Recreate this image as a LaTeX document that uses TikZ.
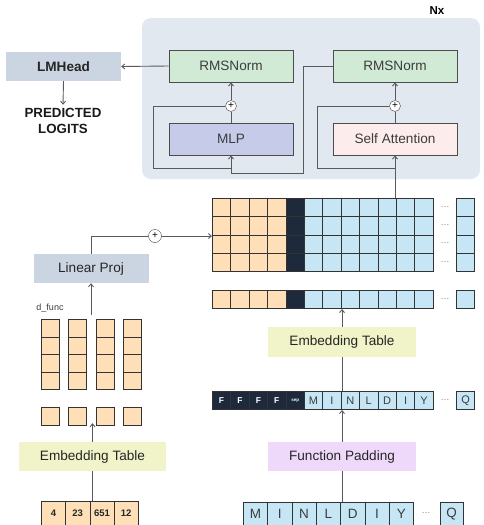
\documentclass[tikz,border=0pt]{standalone}
\usepackage{fontspec}
\setmainfont{Liberation Sans}
\usetikzlibrary{arrows.meta,positioning,calc}
\definecolor{panelbg}{RGB}{226,232,240}
\definecolor{slatebox}{RGB}{203,213,225}
\definecolor{normgreen}{RGB}{208,234,213}
\definecolor{mlpblue}{RGB}{197,203,233}
\definecolor{attnpink}{RGB}{253,236,236}
\definecolor{embyellow}{RGB}{240,244,200}
\definecolor{padviolet}{RGB}{239,217,251}
\definecolor{tokorange}{RGB}{254,223,184}
\definecolor{tokblue}{RGB}{198,230,246}
\definecolor{tokdark}{RGB}{30,41,59}
\definecolor{linegray}{RGB}{90,90,90}
\definecolor{textgray}{RGB}{60,60,60}

\tikzset{
  block/.style={minimum width=124pt, minimum height=32pt, inner sep=0pt, draw=black!70, line width=0.8pt, fill=#1, text=textgray, font=\fontsize{13.6}{15}\selectfont},
  block/.default=white,
  plainbox/.style={minimum height=29pt, inner sep=0pt, fill=#1, text=black!85, font=\fontsize{13.6}{15}\selectfont},
  plainbox/.default=slatebox,
  tok/.style={draw=black!80, line width=0.7pt, fill=#1, minimum width=18.4pt, minimum height=18.25pt, inner sep=0pt, anchor=north west},
  tok/.default=tokblue,
  bigtok/.style={tok=#1, minimum width=24.3pt, minimum height=23pt},
  bigtok/.default=tokblue,
  sumnode/.style={circle, draw=black!75, fill=white, minimum size=11pt, inner sep=0pt, font=\fontsize{10}{10}\selectfont},
  link/.style={draw=linegray, line width=0.9pt},
  arr/.style={link, -{Straight Barb[length=3pt,width=5pt]}},
  moredots/.style={text=black!50, font=\fontsize{9}{9}\selectfont}
}

\begin{document}
\begin{tikzpicture}[x=1pt, y=-1pt]
  \useasboundingbox (0,0) rectangle (483,525);

  % repeated decoder layer
  \fill[panelbg, rounded corners=9pt] (142,18) rectangle (480,179);
  \node[font=\bfseries\fontsize{11.5}{12}\selectfont] (nx) at (437,11) {Nx};

  \node[block=normgreen] (norm1) at (231,66) {RMSNorm};
  \node[block=normgreen] (norm2) at (395,66) {RMSNorm};
  \node[block=mlpblue] (mlp) at (231,139) {MLP};
  \node[block=attnpink] (attn) at (395,139) {Self Attention};
  \node[sumnode] (plus1) at (231,106) {+};
  \node[sumnode] (plus2) at (395,106) {+};

  \node[plainbox, minimum width=115pt, font=\bfseries\fontsize{13.6}{15}\selectfont] (lmhead) at (63.5,66.5) {LMHead};
  \node[align=center, font=\bfseries\fontsize{13.3}{16}\selectfont, text=black!90] (logits) at (63,121) {PREDICTED\\LOGITS};

  \draw[arr] (norm1.west) -- (lmhead.east);
  \draw[arr] (lmhead.south) -- (logits.north);
  \draw[link] (mlp.north) -- (plus1.south);
  \draw[arr] (plus1.north) -- (norm1.south);
  \draw[link] (attn.north) -- (plus2.south);
  \draw[arr] (plus2.north) -- (norm2.south);
  % attention output feeds the MLP, with the two skip paths
  \draw[arr] (norm2.west) -- ++(-29,0) |- ($(mlp.south)+(0,18)$) -- (mlp.south);
  \draw[link] ($(mlp.south)+(0,13)$) -| ($(mlp.west)+(-15,0)$) |- (plus1.west);
  \draw[link] ($(attn.south)+(0,13)$) -| ($(attn.west)+(-15,0)$) |- (plus2.west);

  % hidden states: function part, separator, sequence part
  \foreach \c [evaluate=\c as \x using 212+18.4*\c] in {0,...,11}{
    \ifnum\c<4 \def\col{tokorange}\else\ifnum\c=4 \def\col{tokdark}\else\def\col{tokblue}\fi\fi
    \foreach \r in {0,...,3}
      \node[tok=\col] (m-\r-\c) at (\x,198+18.25*\r) {};
    \node[tok=\col] (e-\c) at (\x,290) {};
  }
  \foreach \r in {0,...,3}{
    \node[tok] (mq-\r) at (456,198+18.25*\r) {};
    \node[moredots] at (445,207+18.25*\r) {\ldots};
  }
  \node[tok] (eq) at (456,290) {};
  \node[moredots] at (445,299) {\ldots};

  % padded input tokens
  \foreach \c [evaluate=\c as \x using 212+18.4*\c] in {0,...,3}
    \node[tok=tokdark, text=white, font=\bfseries\fontsize{8.5}{8}\selectfont] (t-\c) at (\x,391) {F};
  \node[tok=tokdark, text=white, font=\bfseries\fontsize{4.5}{4}\selectfont] (t-4) at (285.6,391) {sep};
  \foreach \c/\aa [evaluate=\c as \x using 212+18.4*\c] in {5/M,6/I,7/N,8/L,9/D,10/I,11/Y}
    \node[tok, text=textgray, font=\fontsize{11}{11}\selectfont] (t-\c) at (\x,391) {\aa};
  \node[tok, text=textgray, font=\fontsize{11}{11}\selectfont] (tq) at (456,391) {Q};
  \node[moredots] at (445,400) {\ldots};

  % raw sequence
  \foreach \c/\aa [evaluate=\c as \x using 243+24.3*\c] in {0/M,1/I,2/N,3/L,4/D,5/I,6/Y}
    \node[bigtok, text=textgray, font=\fontsize{13.5}{14}\selectfont] (b-\c) at (\x,502) {\aa};
  \node[bigtok, minimum width=22.5pt, text=textgray, font=\fontsize{13.5}{14}\selectfont] (bq) at (440,502) {Q};
  \node[moredots] at (426,513) {\ldots};

  \node[plainbox=embyellow, minimum width=148pt, minimum height=30pt] (embr) at (342,342) {Embedding Table};
  \node[plainbox=padviolet, minimum width=148pt] (pad) at (342,456.5) {Function Padding};

  \draw[link] (pad.south) -- (pad.south |- b-0.north);
  \draw[arr] (pad.north) -- (pad.north |- t-0.south);
  \draw[link] (embr.south) -- (embr.south |- t-0.north);
  \draw[arr] (embr.north) -- (embr.north |- e-0.south);
  \draw[arr] (attn.south |- m-0-0.north) -- (attn.south);

  % function tokens branch
  \foreach \c/\aa [evaluate=\c as \x using 41+24.25*\c] in {0/4,1/23,2/651,3/12}
    \node[bigtok=tokorange, minimum width=24.25pt, minimum height=24pt, text=black!85, font=\bfseries\fontsize{9.5}{9}\selectfont] (lt-\c) at (\x,501) {\aa};
  \foreach \c/\x in {0/41,1/68,2/95.5,3/123}{
    \foreach \r in {0,...,3}
      \node[tok=tokorange, minimum width=18pt, minimum height=17.5pt] (f-\r-\c) at (\x,319+17.5*\r) {};
    \node[tok=tokorange, minimum width=18pt, minimum height=17.5pt] (v-\c) at (\x,407) {};
  }
  \node[font=\fontsize{9}{9}\selectfont, text=textgray] (dfunc) at (50,308) {d\_func};

  \node[plainbox=embyellow, minimum width=147pt] (embl) at (92.5,456.5) {Embedding Table};
  \node[plainbox, minimum width=115pt] (linproj) at (91,268.5) {Linear Proj};
  \node[sumnode, minimum size=13pt] (plus3) at (155,236) {+};

  \draw[link] (embl.south) -- (embl.south |- lt-0.north);
  \draw[arr] (embl.north) -- ($(embl.north |- v-0.south)+(0,-2)$);
  \draw[arr] ($(linproj.south)+(0,32)$) -- (linproj.south);
  \draw[link] (linproj.north) |- (plus3.west);
  \draw[arr] (plus3.east) -- (plus3.east -| m-0-0.west);
\end{tikzpicture}
\end{document}
